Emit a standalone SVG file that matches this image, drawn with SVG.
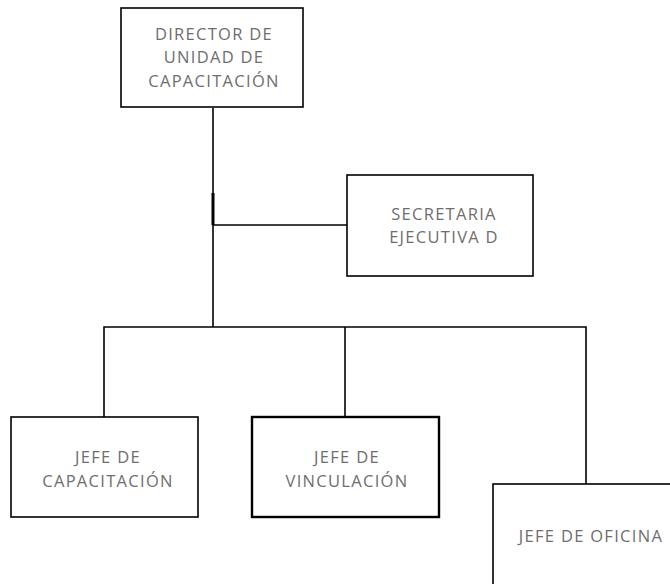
<svg xmlns="http://www.w3.org/2000/svg" width="670" height="584" viewBox="0 0 670 584">
<style>
.box{fill:#fff;stroke:#000;stroke-width:1.6}
.thick{stroke-width:2.4}
.lbl{font-family:"Open Sans","Liberation Sans",sans-serif;font-size:16.5px;letter-spacing:1.3px;fill:#6e6e6e;text-anchor:middle}
.ln{stroke:#000;stroke-width:1.6;fill:none}
</style>
<rect width="670" height="584" fill="#fff"/>
<g id="connectors">
<line class="ln" x1="213" y1="108" x2="213" y2="327"/>
<line class="ln" x1="213" y1="193" x2="213" y2="225" style="stroke-width:3"/>
<line class="ln" x1="213" y1="225" x2="347" y2="225"/>
<polyline class="ln" points="104,417 104,327 586,327 586,484"/>
<line class="ln" x1="345" y1="327" x2="345" y2="417"/>
</g>
<g id="director">
<rect class="box" x="121" y="8" width="182" height="99"/>
<text class="lbl" x="214" y="40">DIRECTOR DE</text>
<text class="lbl" x="214" y="63">UNIDAD DE</text>
<text class="lbl" x="214" y="87">CAPACITACIÓN</text>
</g>
<g id="secretaria">
<rect class="box" x="347" y="175" width="186" height="101"/>
<text class="lbl" x="444" y="220">SECRETARIA</text>
<text class="lbl" x="444" y="243">EJECUTIVA D</text>
</g>
<g id="jefe-capacitacion">
<rect class="box" x="11" y="417" width="187" height="100"/>
<text class="lbl" x="108" y="463">JEFE DE</text>
<text class="lbl" x="108" y="487">CAPACITACIÓN</text>
</g>
<g id="jefe-vinculacion">
<rect class="box thick" x="252" y="417" width="187" height="100"/>
<text class="lbl" x="347" y="463">JEFE DE</text>
<text class="lbl" x="347" y="487">VINCULACIÓN</text>
</g>
<g id="jefe-oficina">
<rect class="box" x="493" y="484" width="200" height="120"/>
<text class="lbl" x="591" y="542">JEFE DE OFICINA</text>
</g>
</svg>
